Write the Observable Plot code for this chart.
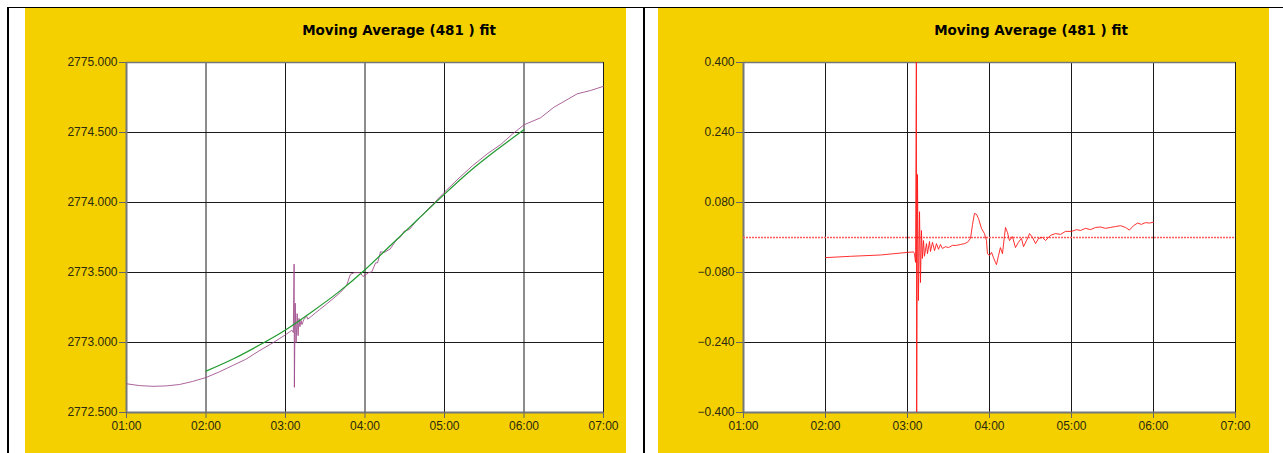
<!DOCTYPE html>
<html>
<head>
<meta charset="utf-8">
<script src="https://cdn.jsdelivr.net/npm/d3@7"></script>
<script src="https://cdn.jsdelivr.net/npm/@observablehq/plot@0.6"></script>
<style>
  body { margin: 0; background: #fff; width: 1283px; height: 453px; overflow: hidden; position: relative;
         font-family: "Liberation Sans", Arial, sans-serif; }
  .rule { position: absolute; background: #000; }
  .panel { position: absolute; top: 8px; height: 445px; background: #f5d000; }
  .panel svg { position: absolute; left: 0; top: 0; }
  .panel svg text { font-family: "Liberation Sans", Arial, sans-serif !important; font-size: 12px !important; fill: #2a2a10; }
  .title { position: absolute; top: 22px; font-family: "DejaVu Sans", Verdana, sans-serif; font-weight: bold;
           font-size: 13.5px; line-height: 17px; transform: translateX(-50%); white-space: nowrap; color: #000; }
</style>
</head>
<body>
<div class="rule" style="left:7px;top:7px;width:1276px;height:1px"></div>
<div class="rule" style="left:7px;top:7px;width:2px;height:446px"></div>
<div class="rule" style="left:643px;top:7px;width:2px;height:446px"></div>
<div class="panel" id="left" style="left:25px;width:601px"></div>
<div class="panel" id="right" style="left:658px;width:611px"></div>
<div class="title" style="left:399px">Moving Average (481 ) fit</div>
<div class="title" style="left:1031px">Moving Average (481 ) fit</div>
<script>
// Measured series: minutes after midnight and value
const seriesMinutes = [60,70,80,90,100,110,120,130,140,150,160,170,180,184.4,185.1,185.9,186.5,186.7,187.3,188.0,188.8,189.5,190.2,190.9,191.7,192.4,193.9,196.1,196.8,199.8,202.7,205.6,210.0,215.9,221.7,226.1,229.0,232.0,236.3,238.5,242.9,245.1,248.0,249.5,251.7,254.6,259.0,263.4,267.1,269.3,273.7,278.8,284.6,291.9,300,310.2,321.2,332.2,342.4,351.2,360,372.5,382.5,400.1,410.2,420];
const seriesValues = [2772.705,2772.692,2772.687,2772.69,2772.70,2772.722,2772.75,2772.79,2772.835,2772.88,2772.94,2772.995,2773.055,2773.085,2773.086,2773.071,2773.56,2772.68,2773.281,2772.998,2773.206,2773.049,2773.172,2773.113,2773.159,2773.128,2773.166,2773.186,2773.167,2773.189,2773.212,2773.234,2773.267,2773.313,2773.360,2773.407,2773.487,2773.499,2773.499,2773.471,2773.500,2773.504,2773.569,2773.569,2773.648,2773.644,2773.668,2773.729,2773.757,2773.793,2773.809,2773.869,2773.926,2773.994,2774.074,2774.168,2774.263,2774.347,2774.414,2774.488,2774.555,2774.605,2774.68,2774.776,2774.80,2774.83];

// Moving-average fit over the 02:00–06:00 window
const fitMinutes = [120,140,160,180,200,220,240,260,280,300,320,340,360];
const fitValues = [2772.795,2772.88,2772.98,2773.09,2773.22,2773.36,2773.52,2773.70,2773.88,2774.06,2774.23,2774.38,2774.52];

// Residual of the series about the fit
const residMinutes = [120,138.3,160.2,180,184.4,185.1,185.9,186.5,186.7,187.3,188.0,188.8,189.5,190.2,190.9,191.7,192.4,193.9,194.6,196.1,196.8,198.3,199.8,201.2,202.7,204.1,205.6,207.8,210.0,212.9,215.9,218.8,221.7,223.9,226.1,227.6,229.0,230.5,232.0,234.1,236.3,237.8,238.5,240.0,241.5,242.9,244.4,245.1,246.6,248.0,249.5,251.0,251.7,253.2,254.6,256.8,259.0,261.2,263.4,264.9,267.1,269.3,271.5,273.7,275.9,278.8,281.0,284.6,288.3,291.9,295.6,300.0,303.7,306.6,310.2,313.9,317.6,321.2,324.9,328.5,332.2,335.9,339.5,342.4,345.4,348.3,351.2,354.1,357.1,360.0];
const residValues = [-0.046,-0.043,-0.040,-0.034,-0.033,-0.037,-0.057,0.432,-0.448,0.144,-0.144,0.059,-0.103,0.016,-0.048,-0.007,-0.043,-0.014,-0.037,-0.009,-0.032,-0.011,-0.030,-0.014,-0.027,-0.016,-0.025,-0.021,-0.023,-0.018,-0.018,-0.016,-0.014,-0.011,-0.002,0.030,0.055,0.053,0.043,0.021,0.009,-0.007,-0.037,-0.041,-0.034,-0.046,-0.057,-0.062,-0.041,-0.023,-0.037,0.005,0.023,0.011,-0.007,0.002,-0.023,-0.011,-0.002,-0.021,-0.007,0.009,0.000,-0.014,-0.002,0.000,-0.007,0.005,0.009,0.007,0.014,0.014,0.018,0.016,0.021,0.018,0.023,0.024,0.021,0.023,0.025,0.027,0.023,0.017,0.027,0.033,0.030,0.034,0.033,0.035];

// Axis ticks
const hourTicks = [60,120,180,240,300,360,420];
const leftTicks = [2772.5,2773.0,2773.5,2774.0,2774.5,2775.0];
const rightTicks = [-0.4,-0.24,-0.08,0.08,0.24,0.4];

const base = Date.UTC(2020, 0, 1);
const toDate = m => new Date(base + m * 60000);
const rows = (ms, vs) => ms.map((m, i) => ({t: toDate(m), v: vs[i]}));

const series = rows(seriesMinutes, seriesValues);
const fit = rows(fitMinutes, fitValues);
const resid = rows(residMinutes, residValues);
const xTicks = hourTicks.map(toDate);
const xDomain = [toDate(60), toDate(420)];

function panel({width, marginLeft, marginRight, yDomain, yTicks, marks}) {
  return Plot.plot({
    width, height: 445,
    marginLeft, marginRight, marginTop: 54, marginBottom: 41,
    style: {background: "transparent", color: "#222"},
    x: {type: "utc", domain: xDomain, label: null},
    y: {domain: yDomain, label: null},
    marks: [
      Plot.frame({fill: "white", stroke: null}),
      Plot.gridX(xTicks, {stroke: "#1a1a1a", strokeOpacity: 1}),
      Plot.gridY(yTicks, {stroke: "#1a1a1a", strokeOpacity: 1}),
      Plot.ruleY([yDomain[1]], {stroke: "#777", strokeWidth: 1.5}),
      Plot.ruleX([xDomain[0]], {stroke: "#777", strokeWidth: 2}),
      Plot.ruleY([yDomain[0]], {stroke: "#777", strokeWidth: 2}),
      Plot.axisX(xTicks, {tickFormat: d3.utcFormat("%H:%M"), tickSize: 6, tickPadding: 3, stroke: "#666", fontSize: 12, label: null}),
      Plot.axisY(yTicks, {tickFormat: d3.format(".3f"), tickSize: 7, tickPadding: 2, stroke: "#666", fontSize: 12, label: null}),
      ...marks
    ]
  });
}

document.getElementById("left").appendChild(panel({
  width: 601, marginLeft: 101, marginRight: 23,
  yDomain: [2772.5, 2775], yTicks: leftTicks,
  marks: [
    Plot.line(series, {x: "t", y: "v", stroke: "#9c4a8a", strokeOpacity: 0.85, strokeWidth: 1}),
    Plot.line(fit, {x: "t", y: "v", stroke: "#1f9a2e", strokeWidth: 1.2, curve: "monotone-x"})
  ]
}));

document.getElementById("right").appendChild(panel({
  width: 611, marginLeft: 85, marginRight: 34,
  yDomain: [-0.4, 0.4], yTicks: rightTicks,
  marks: [
    Plot.ruleY([0], {stroke: "#ff5a5a", strokeWidth: 1.5, strokeDasharray: "2,1"}),
    Plot.line(resid, {x: "t", y: "v", stroke: "#ff1a1a", strokeOpacity: 0.9, strokeWidth: 1, clip: true})
  ]
}));
</script>
</body>
</html>
